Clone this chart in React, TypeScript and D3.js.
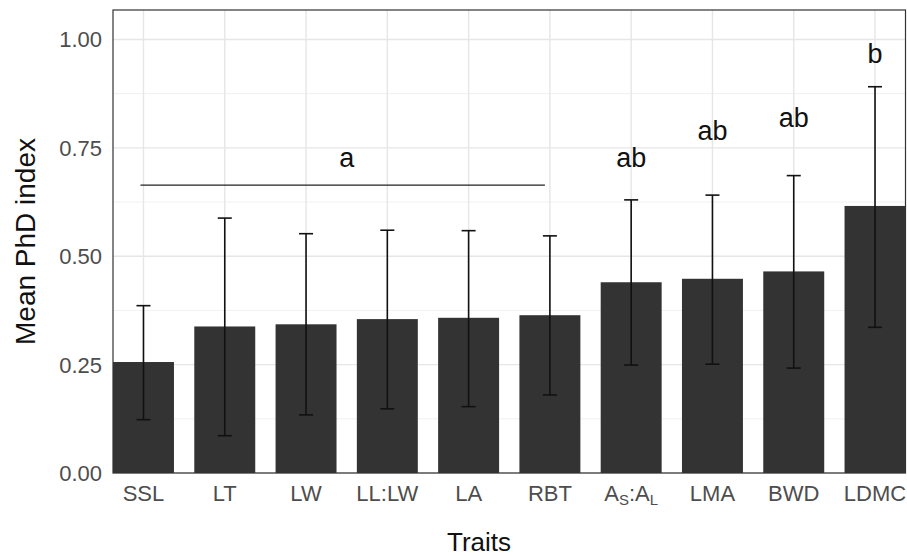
import * as d3 from "d3";

const traits = ["SSL", "LT", "LW", "LL:LW", "LA", "RBT", "AS:AL", "LMA", "BWD", "LDMC"];
const means = [0.256, 0.338, 0.343, 0.355, 0.358, 0.364, 0.44, 0.448, 0.465, 0.616];
const upper = [0.386, 0.588, 0.552, 0.56, 0.559, 0.547, 0.63, 0.641, 0.686, 0.891];
const lower = [0.123, 0.086, 0.134, 0.148, 0.153, 0.18, 0.249, 0.251, 0.242, 0.336];

// group letters: "a" spans SSL..RBT with a line, the rest sit above single bars
const groupA = { label: "a", from: "SSL", to: "RBT", lineY: 0.664, textY: 0.706 };
const letterTraits = ["AS:AL", "LMA", "BWD", "LDMC"];
const letters = ["ab", "ab", "ab", "b"];
const letterY = [0.706, 0.768, 0.798, 0.946];

const yTicks = [0, 0.25, 0.5, 0.75, 1];
const yMinor = [0.125, 0.375, 0.625, 0.875];

const W = 907;
const H = 556;
const margin = { top: 10, right: 1.5, bottom: 83, left: 113 };
const font = "'Liberation Sans', Arial, sans-serif";

function TickLabel({ t }: { t: string }) {
  if (t === "AS:AL") {
    return (
      <>
        A<tspan fontSize={15} dy={4}>S</tspan>
        <tspan dy={-4}>:A</tspan>
        <tspan fontSize={15} dy={4}>L</tspan>
      </>
    );
  }
  return <>{t}</>;
}

export default function App() {
  const x = d3
    .scaleBand()
    .domain(traits)
    .range([margin.left, W - margin.right])
    .paddingInner(0.25)
    .paddingOuter(0);
  const y = d3
    .scaleLinear()
    .domain([0, 1.068])
    .range([H - margin.bottom, margin.top]);

  const bw = x.bandwidth();
  const cx = (t: string) => (x(t) ?? 0) + bw / 2;
  const capW = bw * 0.115;
  const left = margin.left;
  const right = W - margin.right;
  const top = margin.top;
  const bottom = H - margin.bottom;

  return (
    <svg
      width={W}
      height={H}
      style={{ position: "absolute", left: 0, top: 0, background: "white" }}
      fontFamily={font}
    >
      {/* grid */}
      {yMinor.map((v) => (
        <line key={"m" + v} x1={left} x2={right} y1={y(v)} y2={y(v)} stroke="#ececec" strokeWidth={0.8} />
      ))}
      {yTicks.map((v) => (
        <line key={"g" + v} x1={left} x2={right} y1={y(v)} y2={y(v)} stroke="#e6e6e6" strokeWidth={1.4} />
      ))}
      {traits.map((t) => (
        <line key={"v" + t} x1={cx(t)} x2={cx(t)} y1={top} y2={bottom} stroke="#e6e6e6" strokeWidth={1.4} />
      ))}

      {/* bars */}
      {traits.map((t, i) => (
        <rect key={t} x={x(t)} y={y(means[i])} width={bw} height={bottom - y(means[i])} fill="#333333" />
      ))}

      {/* error bars */}
      {traits.map((t, i) => (
        <g key={"e" + t} stroke="#111" strokeWidth={1.6}>
          <line x1={cx(t)} x2={cx(t)} y1={y(upper[i])} y2={y(lower[i])} />
          <line x1={cx(t) - capW} x2={cx(t) + capW} y1={y(upper[i])} y2={y(upper[i])} />
          <line x1={cx(t) - capW} x2={cx(t) + capW} y1={y(lower[i])} y2={y(lower[i])} />
        </g>
      ))}

      {/* significance letters */}
      <line
        x1={cx(groupA.from) - 3}
        x2={cx(groupA.to) - 5}
        y1={y(groupA.lineY)}
        y2={y(groupA.lineY)}
        stroke="#222"
        strokeWidth={1.2}
      />
      <text
        x={(cx(groupA.from) + cx(groupA.to)) / 2}
        y={y(groupA.textY)}
        textAnchor="middle"
        fontSize={27}
        fill="#111"
      >
        {groupA.label}
      </text>
      {letterTraits.map((t, i) => (
        <text key={"l" + t} x={cx(t)} y={y(letterY[i])} textAnchor="middle" fontSize={27} fill="#111">
          {letters[i]}
        </text>
      ))}

      {/* panel border */}
      <rect x={left} y={top} width={right - left} height={bottom - top} fill="none" stroke="#333" strokeWidth={1.2} />

      {/* y axis */}
      {yTicks.map((v) => (
        <text
          key={"yt" + v}
          x={left - 11}
          y={y(v)}
          dy="0.36em"
          textAnchor="end"
          fontSize={22}
          fill="#4d4d4d"
        >
          {v.toFixed(2)}
        </text>
      ))}
      <text
        transform={`translate(25,${(top + bottom) / 2}) rotate(-90)`}
        textAnchor="middle"
        dy="0.36em"
        fontSize={28}
        fill="#111"
      >
        Mean PhD index
      </text>

      {/* x axis */}
      {traits.map((t) => (
        <text key={"xt" + t} x={cx(t)} y={501} textAnchor="middle" fontSize={22} fill="#4d4d4d">
          <TickLabel t={t} />
        </text>
      ))}
      <text x={479} y={551} textAnchor="middle" fontSize={26} fill="#111">
        Traits
      </text>
    </svg>
  );
}
